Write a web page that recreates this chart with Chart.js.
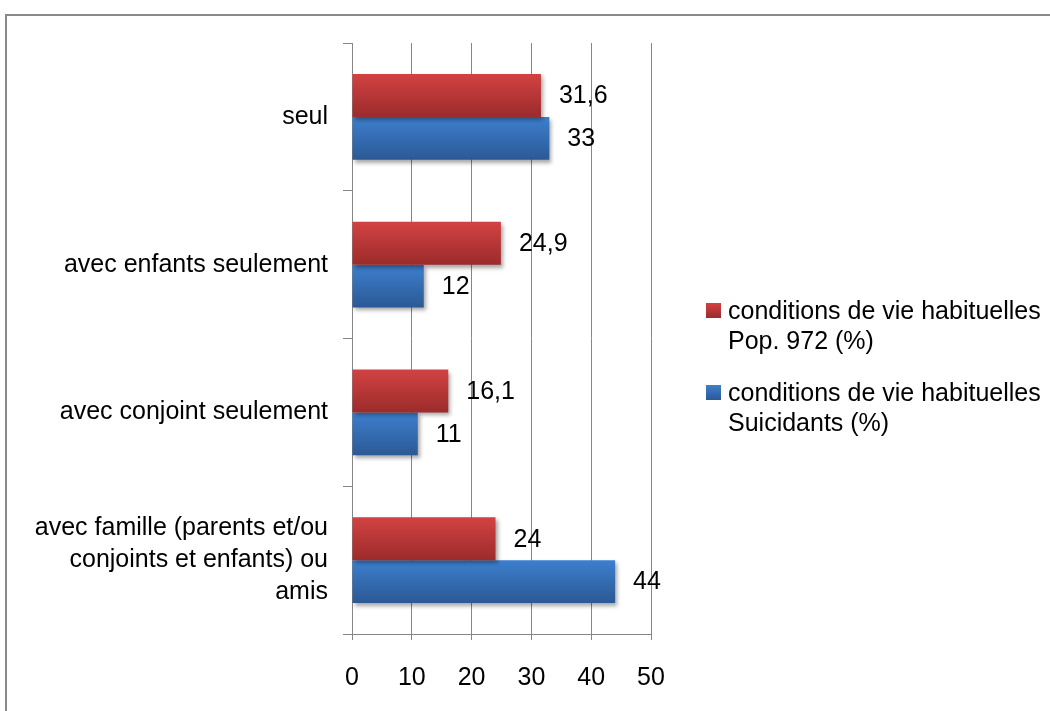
<!DOCTYPE html>
<html>
<head>
<meta charset="utf-8">
<script src="https://cdn.jsdelivr.net/npm/chart.js@4"></script>
<style>
  html, body { margin: 0; padding: 0; background: #fff; overflow: hidden; }
  #wrap { position: relative; width: 1050px; height: 711px; }
  #frame { position: absolute; left: 5px; top: 14px; width: 1200px; height: 900px;
           border-top: 2px solid #8a8a8a; border-left: 2px solid #8a8a8a; }
  canvas { position: absolute; left: 0; top: 0; }
</style>
</head>
<body>
<div id="wrap">
  <div id="frame"></div>
  <canvas id="chart" width="1050" height="711"></canvas>
</div>
<script>
// catégories (de haut en bas)
const categories = [
    'seul',
    'avec enfants seulement',
    'avec conjoint seulement',
    ['avec famille (parents et/ou', 'conjoints et enfants) ou', 'amis']
];
// séries (%)
const popValues = [31.6, 24.9, 16.1, 24];
const suicidantValues = [33, 12, 11, 44];
const seriesNames = [
    ['conditions de vie habituelles', 'Pop. 972 (%)'],
    ['conditions de vie habituelles', 'Suicidants (%)']
];
const xTicks = [0, 10, 20, 30, 40, 50];

const FONT = 'Liberation Sans, Arial, sans-serif';
const gridColor = '#868686';
const barColors = [
    { base: '#c03a3a', top: '#d34242', bottom: '#9c2b2b' },
    { base: '#3670b8', top: '#3d7fce', bottom: '#2b5995' }
];

// dégradés, ombres et étiquettes de valeurs
const barStylePlugin = {
    id: 'barStyle',
    beforeDatasetsDraw(chart) {
        const ctx = chart.ctx;
        chart.data.datasets.forEach((ds, i) => {
            const meta = chart.getDatasetMeta(i);
            meta.data.forEach(el => {
                const p = el.getProps(['y', 'height'], true);
                const g = ctx.createLinearGradient(0, p.y - p.height / 2, 0, p.y + p.height / 2);
                g.addColorStop(0, barColors[i].top);
                g.addColorStop(1, barColors[i].bottom);
                el.options.backgroundColor = g;
            });
        });
        ctx.save();
        ctx.shadowColor = 'rgba(0, 0, 0, 0.35)';
        ctx.shadowBlur = 4;
        ctx.shadowOffsetX = 2;
        ctx.shadowOffsetY = 3;
    },
    afterDatasetsDraw(chart) {
        const ctx = chart.ctx;
        ctx.restore();
        ctx.save();
        ctx.font = '25px ' + FONT;
        ctx.fillStyle = '#000';
        ctx.textAlign = 'left';
        ctx.textBaseline = 'middle';
        chart.data.datasets.forEach((ds, i) => {
            const meta = chart.getDatasetMeta(i);
            meta.data.forEach((el, j) => {
                const p = el.getProps(['x', 'y'], true);
                const txt = String(ds.data[j]).replace('.', ',');
                ctx.fillText(txt, p.x + 18, p.y + 1);
            });
        });
        ctx.restore();
    },
    afterDraw(chart) {
        // légende à droite
        const ctx = chart.ctx;
        ctx.save();
        ctx.font = '25px ' + FONT;
        ctx.textAlign = 'left';
        ctx.textBaseline = 'middle';
        const firstLine = [311, 393];
        chart.data.datasets.forEach((ds, i) => {
            const y0 = firstLine[i];
            const g = ctx.createLinearGradient(0, y0 - 8, 0, y0 + 7);
            g.addColorStop(0, barColors[i].top);
            g.addColorStop(1, barColors[i].bottom);
            ctx.fillStyle = g;
            ctx.fillRect(706, y0 - 8, 15, 15);
            ctx.fillStyle = '#000';
            seriesNames[i].forEach((line, k) => {
                ctx.fillText(line, 728, y0 + 1 + k * 30);
            });
        });
        ctx.restore();
    }
};

const ctx = document.getElementById('chart').getContext('2d');
const chart = new Chart(ctx, {
    type: 'bar',
    data: {
        labels: categories,
        datasets: [{
            label: seriesNames[0].join(' '),
            data: popValues,
            backgroundColor: () => barColors[0].base,
            borderWidth: 0,
            categoryPercentage: 0.58,
            barPercentage: 1
        }, {
            label: seriesNames[1].join(' '),
            data: suicidantValues,
            backgroundColor: () => barColors[1].base,
            borderWidth: 0,
            categoryPercentage: 0.58,
            barPercentage: 1
        }]
    },
    options: {
        indexAxis: 'y',
        responsive: false,
        animation: false,
        events: [],
        layout: {
            padding: { left: 10, top: 43, right: 399, bottom: 0 }
        },
        plugins: {
            legend: { display: false },
            tooltip: { enabled: false }
        },
        scales: {
            x: {
                min: 0,
                max: 50,
                afterFit: scale => {
                    scale.height = 77;
                    scale.paddingLeft = 0;
                    scale.paddingRight = 0;
                },
                afterBuildTicks: scale => { scale.ticks = xTicks.map(v => ({ value: v })); },
                grid: {
                    color: gridColor,
                    lineWidth: 1,
                    tickLength: 6
                },
                border: { color: gridColor, width: 1 },
                ticks: {
                    color: '#000',
                    padding: 23,
                    font: { family: FONT, size: 25 }
                }
            },
            y: {
                afterFit: scale => {
                    scale.width = 342;
                    scale.paddingTop = 0;
                    scale.paddingBottom = 0;
                },
                grid: {
                    offset: true,
                    drawOnChartArea: false,
                    color: gridColor,
                    tickLength: 9
                },
                border: { color: gridColor, width: 1 },
                ticks: {
                    color: '#000',
                    padding: 15,
                    font: { family: FONT, size: 25, lineHeight: 1.27 }
                }
            }
        }
    },
    plugins: [barStylePlugin]
});
</script>
</body>
</html>
